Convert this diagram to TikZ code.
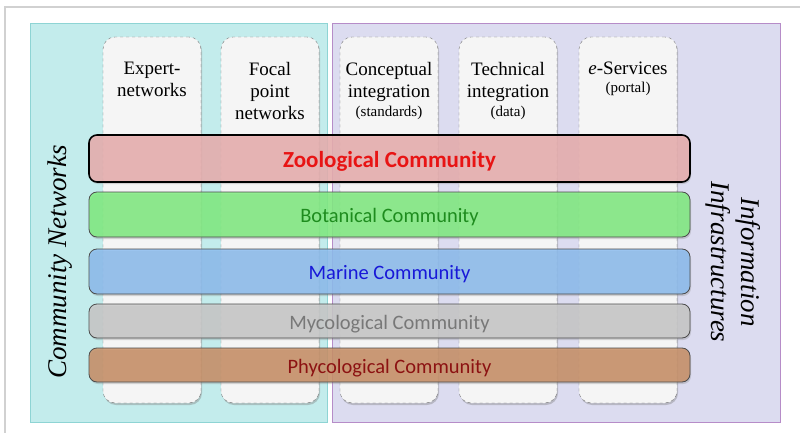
\documentclass[tikz,border=0pt]{standalone}
\usepackage{fontspec}
\setmainfont{Liberation Serif}
\newfontfamily\bandfont{Carlito}
\usetikzlibrary{shadows}

\definecolor{netfill}{HTML}{C3ECEC}
\definecolor{netdraw}{HTML}{8ED4D4}
\definecolor{infofill}{HTML}{DCDCF0}
\definecolor{infodraw}{HTML}{B68CC8}
\definecolor{zoofill}{HTML}{E9AEAE}
\definecolor{botfill}{HTML}{80EC80}
\definecolor{marfill}{HTML}{8CBCEE}
\definecolor{mycfill}{HTML}{C8C8C8}
\definecolor{phyfill}{HTML}{C88F66}
\definecolor{zootext}{HTML}{E81414}
\definecolor{bottext}{HTML}{1E8C1E}
\definecolor{martext}{HTML}{1818D8}
\definecolor{myctext}{HTML}{787878}
\definecolor{phytext}{HTML}{8C1212}

\newcommand\parenfont{\fontsize{15}{17}\selectfont}

\tikzset{
  area/.style={draw=#1draw, fill=#1fill, line width=0.8pt},
  column/.style={draw=black!55, dashed, fill=black!4, rounded corners=12pt,
    minimum width=98pt, minimum height=366pt, inner sep=0pt,
    drop shadow={shadow xshift=1pt, shadow yshift=-2pt, opacity=0.4}},
  coltext/.style={anchor=north, align=center, inner sep=0pt,
    font=\fontsize{19}{22}\selectfont},
  band/.style={draw=black!70, line width=0.8pt, fill=#1fill, fill opacity=0.85,
    text=#1text, text opacity=1, rounded corners=8pt, minimum width=601pt,
    inner sep=0pt, text height=21pt, text depth=5pt,
    font=\bandfont\fontsize{20.5}{22}\selectfont,
    drop shadow={shadow xshift=1pt, shadow yshift=-2pt, opacity=0.3}},
  side/.style={font=\itshape\fontsize{27}{30}\selectfont, align=center},
}

\begin{document}
\begin{tikzpicture}[x=1pt,y=-1pt]
  \useasboundingbox (0,0) rectangle (800,433);
  % frame of the page
  \draw[black!18, line width=1.2pt] (5,433) -- (5,7) -- (800,7);

  % the two areas
  \node[area=net, minimum width=297pt, minimum height=399pt] (net) at (178.5,222.5) {};
  \node[area=info, minimum width=448pt, minimum height=399pt] (info) at (556,222.5) {};

  % columns
  \foreach \name/\x in {expert/152, focal/270, concept/389, tech/508, serv/628}
    \node[column] (\name) at (\x,220) {};

  \node[coltext] (expert-t) at ([yshift=-25pt]expert.north) {Expert-\\networks};
  \node[coltext] (focal-t) at ([yshift=-25pt]focal.north) {Focal\\point\\networks};
  \node[coltext] (concept-t) at ([yshift=-25pt]concept.north)
    {Conceptual\\integration\\[-3pt]{\parenfont (standards)}};
  \node[coltext] (tech-t) at ([yshift=-25pt]tech.north)
    {Technical\\integration\\[-3pt]{\parenfont (data)}};
  \node[coltext] (serv-t) at ([yshift=-25pt]serv.north)
    {\textit{e}-Services\\[-4pt]{\parenfont (portal)}};

  % communities
  \node[band=zoo, draw=black, line width=1.6pt, minimum height=47pt,
    text height=23pt, text depth=5.5pt,
    font=\bandfont\bfseries\fontsize{23}{24}\selectfont] (zoo) at (389.5,158.5) {Zoological Community};
  \node[band=bot, minimum height=45pt] (bot) at (389.5,214.5) {Botanical Community};
  \node[band=mar, minimum height=45pt] (mar) at (389.5,271.5) {Marine Community};
  \node[band=myc, minimum height=34pt] (myc) at (389.5,321) {Mycological Community};
  \node[band=phy, minimum height=34pt] (phy) at (389.5,365) {Phycological Community};

  % side titles
  \node[side, rotate=90] (net-t) at (60,262) {Community Networks};
  \node[side, rotate=-90] (info-t) at (733,262) {Information\\Infrastructures};
\end{tikzpicture}
\end{document}
